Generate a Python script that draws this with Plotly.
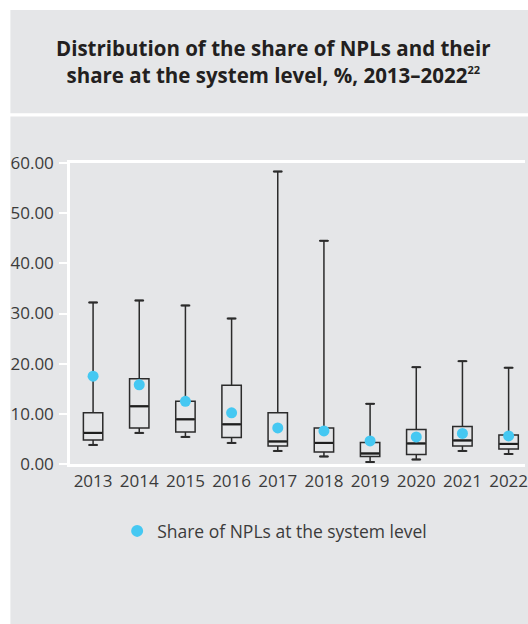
import plotly.graph_objects as go

# NPL share distribution per year (%), plus the system-level share
years = ["2013", "2014", "2015", "2016", "2017", "2018", "2019", "2020", "2021", "2022"]
whisker_min = [3.8, 6.2, 5.4, 4.2, 2.6, 1.5, 0.4, 0.9, 2.6, 2.0]
q1 = [4.8, 7.2, 6.4, 5.3, 3.6, 2.4, 1.5, 1.9, 3.6, 3.0]
median = [6.2, 11.5, 8.9, 7.9, 4.5, 4.2, 2.1, 4.1, 4.7, 4.0]
q3 = [10.2, 17.0, 12.5, 15.7, 10.2, 7.2, 4.3, 6.9, 7.5, 5.8]
whisker_max = [32.2, 32.6, 31.6, 29.0, 58.3, 44.5, 12.0, 19.3, 20.5, 19.2]
system_share = [17.5, 15.8, 12.5, 10.2, 7.2, 6.6, 4.6, 5.4, 6.1, 5.6]
y_ticks = [0, 10, 20, 30, 40, 50, 60]

W, H = 528, 624
ML, MR, MT, MB = 70, 0, 163, 160
PW, PH = W - ML - MR, H - MT - MB

GRAY = "#e5e6e8"
TXT = "#3b3b3b"
FONT = "Open Sans"


def px_x(px):
    return (px - ML) / PW


def px_y(py):
    return (H - MB - py) / PH


fig = go.Figure()

fig.add_trace(go.Box(
    x=years, q1=q1, median=median, q3=q3,
    lowerfence=whisker_min, upperfence=whisker_max,
    width=0.42,
    fillcolor="rgba(0,0,0,0)",
    line=dict(color="#2b2b2b", width=1.5),
    boxpoints=False, hoverinfo="skip", showlegend=False,
))

# whisker caps
fig.add_trace(go.Scatter(
    x=years + years, y=whisker_min + whisker_max, mode="markers",
    marker=dict(symbol="line-ew", size=6, line=dict(color="#2b2b2b", width=2)),
    hoverinfo="skip", showlegend=False,
))

# thicker median bars
fig.add_trace(go.Scatter(
    x=years, y=median, mode="markers",
    marker=dict(symbol="line-ew", size=13, line=dict(color="#1e1e1e", width=2.2)),
    hoverinfo="skip", showlegend=False,
))

fig.add_trace(go.Scatter(
    x=years, y=system_share, mode="markers",
    marker=dict(color="#45c8f2", size=11, line=dict(width=0)),
    name="Share of NPLs at the system level",
))

shapes = [
    dict(type="rect", xref="paper", yref="paper", layer="below",
         x0=px_x(10), x1=px_x(W + 5), y0=px_y(10), y1=px_y(113.3),
         fillcolor=GRAY, line=dict(width=0)),
    dict(type="rect", xref="paper", yref="paper", layer="below",
         x0=px_x(10), x1=px_x(W + 5), y0=px_y(116.5), y1=px_y(H + 5),
         fillcolor=GRAY, line=dict(width=0)),
]

fig.update_layout(
    width=W, height=H,
    margin=dict(l=ML, r=MR, t=MT, b=MB, pad=0),
    paper_bgcolor="white", plot_bgcolor="rgba(0,0,0,0)",
    shapes=shapes,
    font=dict(family=FONT, color=TXT, size=17),
    annotations=[dict(
        text="<b>Distribution of the share of NPLs and their<br>"
             "share at the system level, %, 2013–2022"
             "<sup><span style='font-size:11px'>22</span></sup></b>",
        xref="paper", yref="paper", x=px_x(275), y=px_y(62),
        xanchor="center", yanchor="middle", showarrow=False,
        font=dict(family=FONT, size=20.5, color="#231f20"),
    )],
    legend=dict(
        orientation="h", xref="paper", yref="paper",
        x=px_x(276), y=px_y(531), xanchor="center", yanchor="middle",
        bgcolor="rgba(0,0,0,0)", font=dict(size=17.5, color=TXT),
        itemsizing="constant", itemwidth=30,
    ),
    xaxis=dict(
        type="category", range=[-0.5, 9.355],
        showline=True, linecolor="white", linewidth=2.5, mirror=True,
        showgrid=False, ticks="", tickfont=dict(size=17, color=TXT),
        zeroline=False,
    ),
    yaxis=dict(
        range=[0, 60], tickvals=y_ticks, tickformat=".2f",
        showline=True, linecolor="white", linewidth=2.5,
        ticks="outside", ticklen=8, tickcolor="white", tickwidth=2,
        showgrid=False, zeroline=False, ticklabelstandoff=2,
        tickfont=dict(size=17, color=TXT),
    ),
)

fig.write_html("out.html")
